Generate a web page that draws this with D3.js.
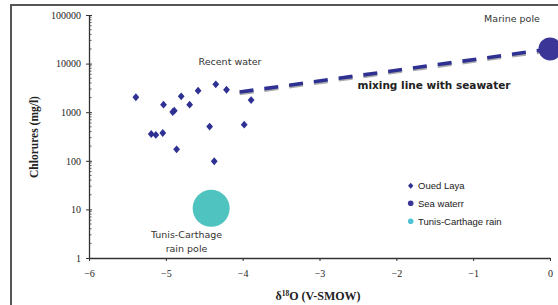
<!DOCTYPE html>
<html><head><meta charset="utf-8">
<script src="https://cdn.jsdelivr.net/npm/d3@7"></script>
<style>body{margin:0;background:#fff}svg{display:block}</style>
</head><body>
<script>
// ---- data ----
const ouedLayaD18O = [-5.39,-5.19,-5.13,-5.04,-5.03,-4.91,-4.89,-4.86,-4.80,-4.69,-4.58,-4.43,-4.37,-4.35,-4.21,-3.98,-3.89];
const ouedLayaCl   = [2030,356,340,373,1430,1010,1075,172,2120,1430,2770,505,98,3750,2900,553,1780];
const seaWater = [0, 20000];
const rainPole = [-4.41, 10.5];
const mixingLine = [[-4.04, 2600],[0, 20000]];
const xTicks = [-6,-5,-4,-3,-2,-1,0];
const yTicks = [1,10,100,1000,10000,100000];
const legendLabels = ["Oued Laya","Sea waterr","Tunis-Carthage rain"];

const W=558,H=305;
const svg=d3.select("body").append("svg").attr("width",W).attr("height",H);
svg.append("rect").attr("x",11).attr("y",5).attr("width",560).attr("height",310)
  .attr("fill","#fff").attr("stroke","#555").attr("stroke-width",2);

const x=d3.scaleLinear().domain([-6,0]).range([89,550]);
const y=d3.scaleLog().domain([1,100000]).range([258,15]);
const axisCol="#333";
const serif="'Liberation Serif','Times New Roman',serif";
const sans="'Liberation Sans',Arial,sans-serif";
const verd="'DejaVu Sans',Verdana,sans-serif";

// y axis
const ya=svg.append("g").attr("transform","translate(89,0)")
  .call(d3.axisLeft(y).tickValues(yTicks).tickFormat(d3.format("d")).tickSize(3).tickSizeOuter(0));
ya.selectAll("text").attr("font-family",serif).attr("font-size",10).attr("fill","#222").attr("x",-8);
ya.selectAll(".tick line").attr("x2",-3).attr("x1",3).attr("stroke",axisCol);
ya.select(".domain").attr("stroke",axisCol).attr("stroke-width",1.3);
// minor ticks
const minor=[];
for(let e=0;e<5;e++)for(let m=2;m<10;m++)minor.push(m*Math.pow(10,e));
svg.append("g").selectAll("line").data(minor).join("line")
  .attr("x1",89).attr("x2",91.5).attr("y1",d=>y(d)).attr("y2",d=>y(d)).attr("stroke",axisCol).attr("stroke-width",0.8);

// x axis
const xa=svg.append("g").attr("transform","translate(0,258)")
  .call(d3.axisBottom(x).tickValues(xTicks).tickFormat(d3.format("d")).tickSize(3).tickSizeOuter(0));
xa.selectAll("text").attr("font-family",serif).attr("font-size",10).attr("fill","#222").attr("y",12);
xa.selectAll(".tick line").attr("stroke",axisCol);
xa.select(".domain").attr("stroke",axisCol).attr("stroke-width",1.3);

// axis titles
svg.append("text").attr("transform","translate(38,137) rotate(-90)").attr("text-anchor","middle")
  .attr("font-family",serif).attr("font-weight","bold").attr("font-size",11.5).attr("fill","#222")
  .text("Chlorures (mg/l)");
const xt=svg.append("text").attr("x",318).attr("y",300).attr("text-anchor","middle")
  .attr("font-family",serif).attr("font-weight","bold").attr("font-size",12).attr("fill","#222");
xt.append("tspan").text("δ");
xt.append("tspan").attr("font-size",7.5).attr("dy",-4.5).text("18");
xt.append("tspan").attr("dy",4.5).text("O (V-SMOW)");

// mixing line
const lp=mixingLine.map(d=>[x(d[0]),y(d[1])]);
svg.append("line").attr("x1",lp[0][0]).attr("y1",lp[0][1]+1.6).attr("x2",lp[1][0]).attr("y2",lp[1][1]+1.6)
  .attr("stroke","#aaa").attr("stroke-width",3.5).attr("stroke-dasharray","14,11");
svg.append("line").attr("x1",lp[0][0]).attr("y1",lp[0][1]).attr("x2",lp[1][0]).attr("y2",lp[1][1])
  .attr("stroke","#2e3192").attr("stroke-width",3.6).attr("stroke-dasharray","14,11");

// rain pole
svg.append("circle").attr("cx",x(rainPole[0])).attr("cy",y(rainPole[1])).attr("r",18.5).attr("fill","#4fc3bf");
// sea water
svg.append("circle").attr("cx",x(seaWater[0])).attr("cy",y(seaWater[1])).attr("r",11.5).attr("fill","#3a3597");

// diamonds
const diamond={draw(ctx,s){const a=3.4,b=3.9;ctx.moveTo(0,-b);ctx.lineTo(a,0);ctx.lineTo(0,b);ctx.lineTo(-a,0);ctx.closePath();}};
svg.append("g").selectAll("path").data(ouedLayaD18O.map((d,i)=>[d,ouedLayaCl[i]])).join("path")
  .attr("d",d3.symbol(diamond)()).attr("transform",d=>`translate(${x(d[0])},${y(d[1])})`).attr("fill","#2e3192");

// annotations
svg.append("text").attr("x",512).attr("y",22).attr("text-anchor","middle").attr("font-family",verd).attr("font-size",9.5).attr("fill","#333").text("Marine pole");
svg.append("text").attr("x",230).attr("y",65).attr("text-anchor","middle").attr("font-family",verd).attr("font-size",9.5).attr("fill","#333").text("Recent water");
svg.append("text").attr("x",434).attr("y",89).attr("text-anchor","middle").attr("font-family",verd).attr("font-weight","bold").attr("font-size",10.5).attr("fill","#222").text("mixing line with seawater");
svg.append("text").attr("x",186.5).attr("y",238).attr("text-anchor","middle").attr("font-family",verd).attr("font-size",9.5).attr("fill","#333").text("Tunis-Carthage");
svg.append("text").attr("x",186.5).attr("y",252).attr("text-anchor","middle").attr("font-family",verd).attr("font-size",9.5).attr("fill","#333").text("rain pole");

// legend
const lg=svg.append("g");
const ly=[185.7,203.3,221.3];
lg.append("path").attr("d",d3.symbol({draw(ctx){ctx.moveTo(0,-3);ctx.lineTo(2.7,0);ctx.lineTo(0,3);ctx.lineTo(-2.7,0);ctx.closePath();}})()).attr("transform",`translate(410.7,${ly[0]})`).attr("fill","#2e3192");
lg.append("circle").attr("cx",410.7).attr("cy",ly[1]).attr("r",2.8).attr("fill","#3a3597");
lg.append("circle").attr("cx",410.7).attr("cy",ly[2]).attr("r",2.8).attr("fill","#4fc3d4");
lg.selectAll("text").data(legendLabels).join("text").attr("x",418).attr("y",(d,i)=>ly[i]+3.5)
  .attr("font-family",sans).attr("font-size",9.5).attr("fill","#222").text(d=>d);
</script>
</body></html>
